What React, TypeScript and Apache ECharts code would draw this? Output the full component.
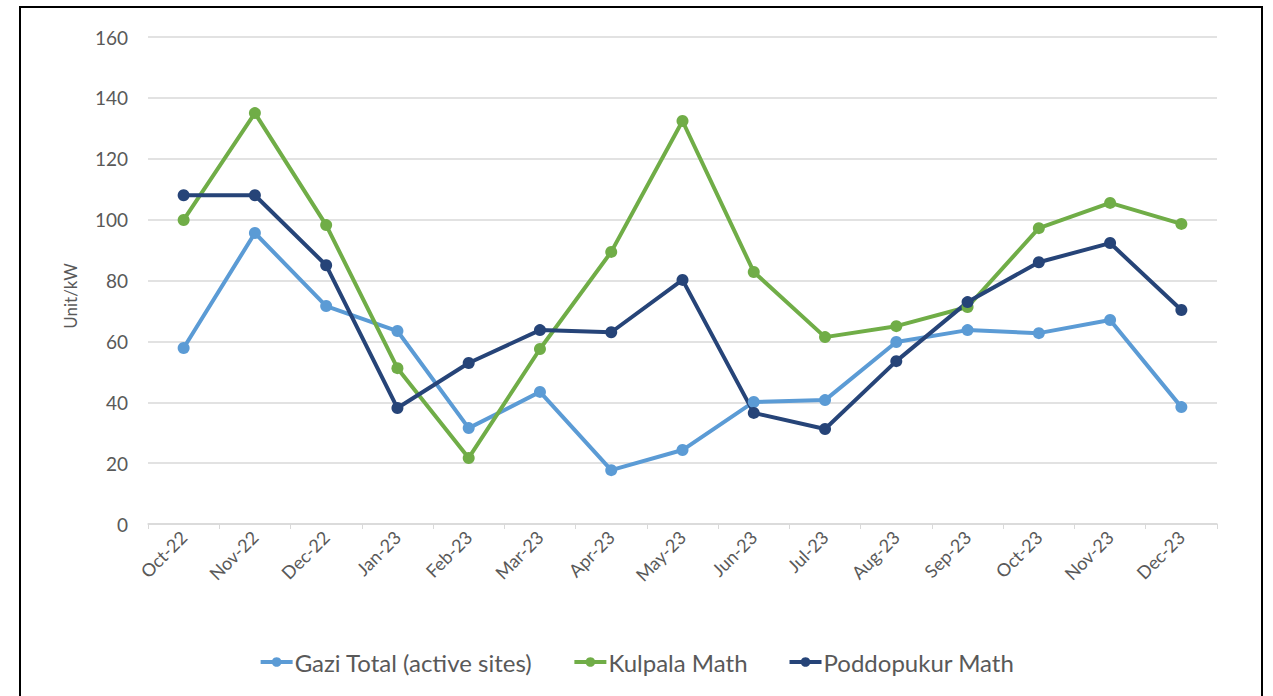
import React, { useEffect, useRef } from "react";
import * as echarts from "echarts";

const categories = ["Oct-22","Nov-22","Dec-22","Jan-23","Feb-23","Mar-23","Apr-23","May-23","Jun-23","Jul-23","Aug-23","Sep-23","Oct-23","Nov-23","Dec-23"];
const gaziTotal = [57.8, 95.6, 71.6, 63.4, 31.5, 43.4, 17.7, 24.3, 40.1, 40.7, 59.8, 63.7, 62.7, 67, 38.4];
const kulpalaMath = [99.9, 135, 98.2, 51.2, 21.7, 57.5, 89.4, 132.4, 82.8, 61.4, 65, 71.3, 97.2, 105.5, 98.6];
const poddopukurMath = [108, 108, 85, 38.1, 52.9, 63.7, 63, 80.2, 36.5, 31.2, 53.5, 72.9, 86, 92.3, 70.3];
const yAxisTitle = "Unit/kW";

const FONT = "Lato, 'Open Sans', sans-serif";
const TEXT = "#595959";

export default function App() {
  const ref = useRef<HTMLDivElement>(null);
  useEffect(() => {
    document.body.style.margin = "0";
    const chart = echarts.init(ref.current!, null, { renderer: "svg" });
    const mk = (name: string, data: number[], color: string) => ({
      name,
      type: "line",
      data,
      symbol: "circle",
      symbolSize: 12,
      lineStyle: { width: 4, color },
      itemStyle: { color },
      z: 3,
    });
    chart.setOption({
      animation: false,
      textStyle: { fontFamily: FONT },
      graphic: [
        {
          type: "rect",
          shape: { x: 20, y: 7, width: 1242, height: 720 },
          style: { fill: "none", stroke: "#000", lineWidth: 2 },
          silent: true,
        },
        {
          type: "text",
          x: 70,
          y: 296,
          rotation: Math.PI / 2,
          style: {
            text: yAxisTitle,
            fill: TEXT,
            font: `17px ${FONT}`,
            textAlign: "center",
            textVerticalAlign: "middle",
          },
          silent: true,
        },
      ],
      grid: { left: 148, right: 56, top: 37, bottom: 172 },
      legend: {
        bottom: 17,
        left: "center",
        itemWidth: 32,
        itemHeight: 12,
        itemGap: 40,
        lineStyle: { width: 4 },
        textStyle: { color: TEXT, fontSize: 24, fontFamily: FONT, padding: [0, 0, 0, -3] },
        data: ["Gazi Total (active sites)", "Kulpala Math", "Poddopukur Math"],
      },
      xAxis: {
        type: "category",
        data: categories,
        boundaryGap: true,
        axisLine: { lineStyle: { color: "#d9d9d9", width: 1.5 } },
        axisTick: { show: true, length: 5, lineStyle: { color: "#d9d9d9" } },
        axisLabel: { rotate: 45, color: TEXT, fontSize: 18, margin: 10, interval: 0 },
      },
      yAxis: {
        type: "value",
        min: 0,
        max: 160,
        interval: 20,
        axisLine: { show: false },
        axisTick: { show: false },
        axisLabel: { color: TEXT, fontSize: 19, margin: 20 },
        splitLine: { lineStyle: { color: "#d9d9d9", width: 1.5 } },
      },
      series: [
        mk("Gazi Total (active sites)", gaziTotal, "#5B9BD5"),
        mk("Kulpala Math", kulpalaMath, "#70AD47"),
        mk("Poddopukur Math", poddopukurMath, "#264478"),
      ],
    });
    return () => chart.dispose();
  }, []);
  return <div ref={ref} style={{ width: 1273, height: 696, background: "#fff" }} />;
}
